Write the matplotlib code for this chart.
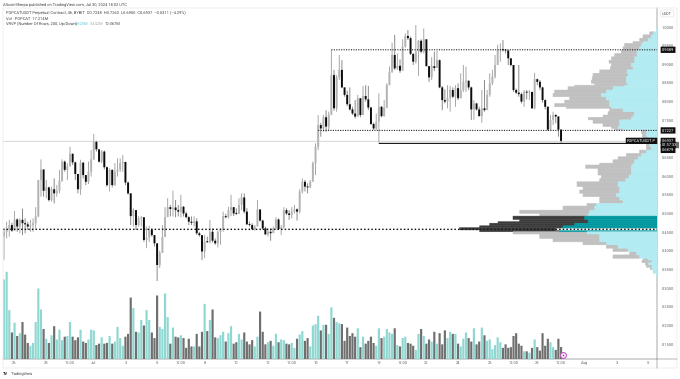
import matplotlib
matplotlib.use("Agg")
import matplotlib.pyplot as plt
from matplotlib.lines import Line2D
from matplotlib.transforms import blended_transform_factory

plt.rcParams['font.family'] = ['Roboto', 'DejaVu Sans']
plt.rcParams['path.snap'] = False
plt.rcParams['text.hinting'] = 'no_hinting'
plt.rcParams['text.hinting_factor'] = 1

open_first = 0.438
closes = [
 .451,.458,.469,.454,.484,.465,.483,.474,.471,.465,
 .469,.474,.492,.590,.618,.561,.570,.536,.565,.554,
 .561,.588,.639,.617,.626,.660,.637,.606,.565,.636,
 .603,.585,.612,.645,.693,.672,.639,.666,.624,.576,
 .617,.576,.612,.618,.635,.638,.583,.554,.493,.509,
 .469,.487,.490,.429,.436,.456,.442,.420,.362,.394,
 .437,.490,.517,.512,.516,.509,.505,.518,.500,.490,
 .478,.475,.479,.447,.442,.398,.424,.423,.451,.427,
 .420,.451,.456,.493,.490,.509,.517,.500,.499,.523,
 .543,.505,.471,.469,.458,.465,.511,.481,.460,.444,
 .451,.447,.460,.484,.458,.463,.509,.500,.496,.505,
 .511,.505,.559,.585,.572,.570,.585,.635,.679,.737,
 .728,.758,.733,.764,.871,.782,.865,.885,
 .838,.818,.793,.779,.768,.760,.809,.764,.815,.806,
 .784,.740,.728,.746,.786,.761,.784,.844,.880,.925,
 .889,.896,.883,.947,.976,.970,.928,.907,.934,.963,
 .934,.967,.895,.865,.895,.890,.911,.838,.804,.800,
 .809,.831,.813,.836,.809,.831,.853,.856,.838,.779,
 .795,.779,.761,.782,.777,.818,.849,.867,.898,.937,
 .940,.938,.937,.916,.898,.831,.824,.820,.800,.826,
 .824,.826,.782,.860,.853,.838,.804,.786,.7248,.751,
 .764,.760,.7248,.6937]
highs = [
 .460,.478,.483,.475,.507,.487,.487,.513,.487,.478,
 .483,.487,.517,.590,.645,.618,.590,.572,.572,.594,
 .576,.617,.645,.642,.635,.679,.661,.639,.603,.644,
 .639,.603,.639,.670,.713,.695,.672,.670,.669,.626,
 .621,.618,.635,.648,.648,.657,.639,.585,.554,.514,
 .509,.493,.493,.484,.465,.467,.460,.442,.420,.400,
 .469,.517,.541,.523,.561,.536,.523,.550,.520,.505,
 .493,.492,.492,.487,.451,.442,.442,.438,.483,.460,
 .433,.454,.460,.505,.499,.518,.550,.517,.514,.541,
 .554,.554,.514,.478,.474,.469,.536,.509,.483,.465,
 .460,.460,.465,.490,.487,.469,.517,.514,.509,.517,
 .523,.514,.565,.594,.590,.581,.590,.639,.688,.764,
 .743,.764,.777,.773,.938,.885,.871,.925,
 .911,.838,.829,.838,.786,.804,.818,.809,.842,.844,
 .842,.786,.743,.768,.822,.788,.804,.849,.894,.958,
 .979,.929,.913,.967,.983,.992,.974,.929,1.005,.965,
 .967,.996,.967,.895,.919,.934,.936,.913,.842,.833,
 .844,.842,.838,.844,.849,.876,.898,.894,.856,.840,
 .804,.797,.786,.831,.858,.831,.876,.885,.925,.952,
 .956,.965,.940,.937,.916,.898,.835,.898,.824,.831,
 .831,.831,.822,.877,.862,.858,.840,.806,.788,.764,
 .773,.767,.761,.7263]
lows = [
 .375,.433,.438,.451,.456,.451,.447,.442,.447,.456,
 .451,.451,.460,.490,.545,.545,.541,.532,.532,.527,
 .545,.554,.585,.612,.590,.630,.630,.590,.554,.550,
 .594,.576,.579,.599,.644,.666,.636,.635,.618,.572,
 .559,.570,.574,.599,.612,.612,.576,.550,.469,.465,
 .456,.465,.465,.424,.407,.424,.438,.411,.319,.354,
 .394,.437,.510,.492,.492,.490,.492,.490,.492,.487,
 .469,.469,.465,.442,.438,.375,.380,.421,.420,.422,
 .416,.409,.416,.451,.487,.487,.493,.493,.496,.500,
 .509,.500,.469,.465,.456,.454,.474,.478,.456,.442,
 .438,.427,.451,.456,.456,.442,.460,.496,.483,.487,
 .500,.481,.500,.554,.559,.554,.568,.599,.603,.670,
 .706,.719,.719,.724,.764,.776,.773,.858,
 .836,.813,.788,.776,.764,.755,.760,.758,.764,.800,
 .777,.737,.724,.724,.688,.758,.760,.782,.844,.877,
 .885,.885,.877,.883,.945,.965,.925,.898,.902,.869,
 .929,.929,.894,.853,.858,.882,.898,.836,.777,.795,
 .782,.773,.809,.786,.804,.809,.826,.826,.831,.751,
 .751,.776,.760,.743,.773,.786,.813,.844,.862,.903,
 .907,.934,.929,.898,.894,.826,.820,.813,.795,.786,
 .806,.804,.780,.779,.844,.831,.797,.779,.722,.722,
 .737,.742,.706,.6900]

volumes = [
 114,125,70,38,52,33,37,53,35,23,
 19,23,53,101,71,43,29,23,34,47,
 28,42,27,32,33,53,32,27,31,42,
 25,23,28,42,41,20,22,31,22,23,
 33,22,25,46,30,19,32,36,88,73,
 39,38,56,48,70,56,38,30,91,46,
 43,94,60,22,45,32,31,34,30,16,
 29,18,18,36,18,39,79,40,56,71,
 31,30,34,39,25,37,47,22,24,36,
 28,38,25,21,27,18,32,68,39,21,
 24,26,19,36,24,28,27,22,21,23,
 16,29,35,40,26,30,18,48,50,62,
 41,49,49,36,74,59,53,51,
 50,26,45,33,37,32,44,17,32,22,
 26,32,23,19,44,30,32,43,38,36,
 44,20,18,30,32,23,22,19,13,36,
 43,33,22,28,25,39,22,37,21,41,
 30,39,36,36,22,18,29,38,30,25,
 44,21,25,45,34,26,28,14,20,31,
 24,16,21,16,17,33,37,22,19,11,
 11,9,16,28,17,12,37,19,29,24,
 17,13,29,17.2]
volume_side = ("TTTGTGTGGG" "TTTTTGTGTG" "TTTGTTGGGT" "GGTTTGGTGG" "TGTTTTGGGT"
               "GTTGTTGGGT" "TTTGTGGTGG" "GGTGGGTGTG" "GTTTGTTGGT" "TGGGGTTGGG"
               "TGTTGTTGGT" "TGTTGGTTTT" "GTGTTGTT"
               "GGGGGGTGTG" "GGGTTGTTTT" "GTGTTGGGTT" "GTGGTGTGGG" "TTGTGTTTGG"
               "TGGTGTTTTT" "TGGGGGGGGT" "GTGTGGGGGT" "TGGG")

profile_price = [
 .996,.987,.979,.970,.961,.956,.947,.938,.929,.920,.911,.903,.894,.885,.876,.867,.858,.849,.844,.840,
 .831,.822,.813,.804,.795,.786,.782,.773,.764,.758,.751,.742,.733,.728,.724,.715,.706,.697,.688,.679,
 .670,.661,.652,.644,.635,.630,.621,.612,.603,.594,.585,.572,.563,.554,.545,.536,.527,.520,.509,.500,
 .493,.484,.478,.474,.467,.462,.456,.451,.445,.433,.424,.416,.407,.398,.389,.380,.375,.368,.362,.356,
 .349,.340,.330]
profile_up = [
 .7,3.3,5.7,9,14,15.7,17.3,20,20,22.3,22.3,25.7,24,30,29,30.7,30.7,29,32.3,44,
 50.7,55.7,50.7,47.3,47.3,45.7,34,22.3,24,25.7,37.3,37.3,39,34,10.7,10.7,9,7.3,7.3,5.7,
 10.7,15.7,19,22.3,24,25.7,25.7,25.7,28,31.3,39,37.3,37.3,40.7,37.3,34,60.7,62.3,67.3,69,
 72.3,69,69,82.3,94,95.7,97.3,70,57.3,57.3,50.7,39,29,20.7,17.3,9,5,8.3,5,5,
 2.7,.7]
profile_down = [
 0,4,8.3,8.3,10,16.7,16.7,15.7,22.3,23.3,25.7,20,22.7,27.3,35,34,35,33.3,50,45,
 51.7,48.3,36.7,45,55,45,13.3,26.7,30,43,26.7,16.7,6.7,8.3,5,4,5,3.3,3.3,5,
 6.7,15,20,21.7,33.3,45.7,33.3,33.3,27.7,26,41,36.7,40,33.3,20,23.3,9.3,31.7,70,48.3,
 71.7,68.3,90,85,83.3,101.7,80,74,60,46.7,23.3,11.7,15,6.7,26.7,5,10,3.3,5.7,1.7,
 .7,0]
value_band = (.448, .493)

tick_index = [4,16,25,34,46,58,67,76,88,100,109,118,130,142,151,160,172,184,193,202,211,220,232,244]
tick_text = ['26','28','12:00','Jul','3','5','12:00','8','10','12','12:00','15','17','19','12:00','22','24','26','12:00','29','12:00','Aug','3','5']
price_ticks = [.15,.20,.25,.30,.35,.40,.45,.50,.55,.60,.65,.75,.80,.85,.90,.95,1.00]

level_top = .9389
level_mid = .7227
level_low = .4575
level_solid = .6879
last_price = .6937
level_top_start = 124
level_mid_start = 119
level_solid_start = 142

W, H = 680, 379
fig = plt.figure(figsize=(W/100, H/100), dpi=100, facecolor='white')
pl, pr, pt, pb = 3, 657, 8, 359
rect = [pl/W, 1-pb/H, (pr-pl)/W, (pb-pt)/H]
ax = fig.add_axes(rect)
ax.set_facecolor('none')
ax.set_xlim(-0.379, 247.35)
ax.set_ylim(0.1099, 1.0509)

opens = [open_first] + closes[:-1]
x = list(range(len(closes)))
assert len(closes) == len(highs) == len(lows) == len(volumes) == len(volume_side)

# volume
axv = fig.add_axes(rect, sharex=ax)
axv.set_ylim(0, 503)
axv.set_facecolor('none')
axv.axis('off')
vcol = ['#8fd8d2' if s == 'T' else '#6f6f6f' for s in volume_side]
axv.bar(x, volumes, width=0.82, color=vcol, linewidth=0, zorder=1)

# candles
for i in x:
    up = closes[i] >= opens[i]
    ax.vlines(i, lows[i], highs[i], color='#a0a0a0' if up else '#808080', lw=0.65, zorder=3)
    lo, hi = min(opens[i], closes[i]), max(opens[i], closes[i])
    ax.bar(i, max(hi-lo, .0025), bottom=lo, width=0.74,
           color='#b4b4b4' if up else '#0c0c0c', linewidth=0, zorder=4)

# volume profile
axp = fig.add_axes(rect, sharey=ax)
axp.set_xlim(654, 0)
axp.set_facecolor('none')
axp.axis('off')
for k in range(len(profile_up)):
    top, bot = profile_price[k], profile_price[k+1]
    mid = (top+bot)/2
    inside = value_band[0] < mid < value_band[1]
    cu = '#00979f' if inside else '#b2ebf2'
    cd = '#3c3c3c' if inside else '#c0c0c0'
    axp.barh(bot, profile_up[k], height=top-bot, align='edge', linewidth=0.35, color=cu, edgecolor=cu, zorder=5)
    if profile_down[k]:
        axp.barh(bot, profile_down[k], left=profile_up[k], height=top-bot, align='edge', linewidth=0.35,
                 color=cd, edgecolor=cd, zorder=4.9)

# levels (drawn on their own axes above the profile)
axl = fig.add_axes(rect, sharex=ax, sharey=ax)
axl.set_facecolor('none')
axl.axis('off')
xmax = 247.35
axl.axhline(last_price, color='#c4c4c4', lw=0.5, zorder=1)
axl.hlines(level_low, 209, xmax, color='white', lw=1.4, zorder=6)
axl.hlines(level_low, -0.379, xmax, color='#111111', lw=1.0, linestyles=(0, (1.1, 1.5)), zorder=7)
axl.hlines(level_top, level_top_start, xmax, color='#222222', lw=0.8, linestyles=(0, (1, 1.2)), zorder=7)
axl.hlines(level_mid, level_mid_start, xmax, color='#222222', lw=0.8, linestyles=(0, (1, 1.2)), zorder=7)
axl.hlines(level_solid, level_solid_start, 240, color='#111111', lw=0.8, zorder=7)

# axes styling
for s in ax.spines.values():
    s.set_visible(False)
ax.spines['right'].set_visible(True)
ax.spines['right'].set_color('#a8a8a8')
ax.spines['right'].set_linewidth(0.7)
ax.spines['bottom'].set_visible(True)
ax.spines['bottom'].set_color('#a8a8a8')
ax.spines['bottom'].set_linewidth(0.7)
ax.yaxis.tick_right()
ax.set_yticks(price_ticks)
ax.set_yticklabels([f'{p:.4f}' for p in price_ticks], fontsize=3, color='#666666')
ax.tick_params(axis='y', length=0, pad=3.2)
ax.set_xticks(tick_index)
ax.set_xticklabels(tick_text, fontsize=3, color='#666666')
ax.tick_params(axis='x', length=0, pad=1.6)

# price tags
tr = blended_transform_factory(ax.transAxes, ax.transData)
def tag(y, s, xpos=1.0075, ha='left', fs=3):
    axl.text(xpos, y, s, transform=tr, color='white', fontsize=fs, va='center', ha=ha, clip_on=False, zorder=9,
             bbox=dict(facecolor='#111111', edgecolor='none', pad=0.9))
tag(level_top, '0.9389')
tag(level_mid, '0.7227')
tag(.6945, '0.6937')
tag(.6835, '01:57:33', fs=2.6)
tag(.6705, '0.6879')
tag(last_price+.001, 'POPCATUSDT.P', xpos=0.9985, ha='right', fs=2.8)

# frame
for (xa, ya, xb, yb) in [(3, 8, 677, 8), (3, 8, 3, 368), (3, 368, 677, 368), (677, 8, 677, 368), (657, 359, 677, 359), (657, 359, 657, 368)]:
    fig.add_artist(Line2D([xa/W, xb/W], [1-ya/H, 1-yb/H], color='#ececec' if xa != 657 else '#a8a8a8', lw=0.6))

# texts
def t(px, py, s, **kw):
    kw.setdefault('fontsize', 2.75)
    kw.setdefault('color', '#444444')
    fig.text(px/W, 1-py/H, s, va='center', ha='left', **kw)
t(3, 4.5, 'AltcoinSherpa published on TradingView.com, Jul 30, 2024 18:02 UTC')
t(5.5, 13, 'POPCATUSDT Perpetual Contract, 4h, BYBIT  O0.7248  H0.7263  L0.6900  C0.6937  \u22120.0311 (\u22124.29%)')
t(5.5, 18.5, 'Vol \u00b7 POPCAT  17.214M')
t(5.5, 24, 'VRVP (Number Of Rows, 200, Up/Down)')
t(75, 24, '6.625M', color='#5cc8d8')
t(90, 24, '3.442M', color='#aaaaaa')
t(105, 24, '10.067M')
t(3, 373.5, 'TV', fontsize=3.2, fontweight='bold', color='#222222')
t(10.5, 373.5, 'TradingView', fontsize=3.2)
fig.text(667/W, 1-13.5/H, 'USDT', fontsize=2.8, color='#555555', ha='center', va='center',
         bbox=dict(facecolor='white', edgecolor='#dddddd', lw=0.4, boxstyle='round,pad=0.4'))

# snapshot marker
fig.add_artist(Line2D([563/W], [1-355/H], marker='o', ms=4.2, mfc='white', mec='#c455c4', mew=0.8, transform=fig.transFigure))
fig.add_artist(Line2D([563/W], [1-355/H], marker='o', ms=1.3, mfc='#a040a0', mec='none', transform=fig.transFigure))

fig.savefig('out.png', dpi=100, facecolor='white')
